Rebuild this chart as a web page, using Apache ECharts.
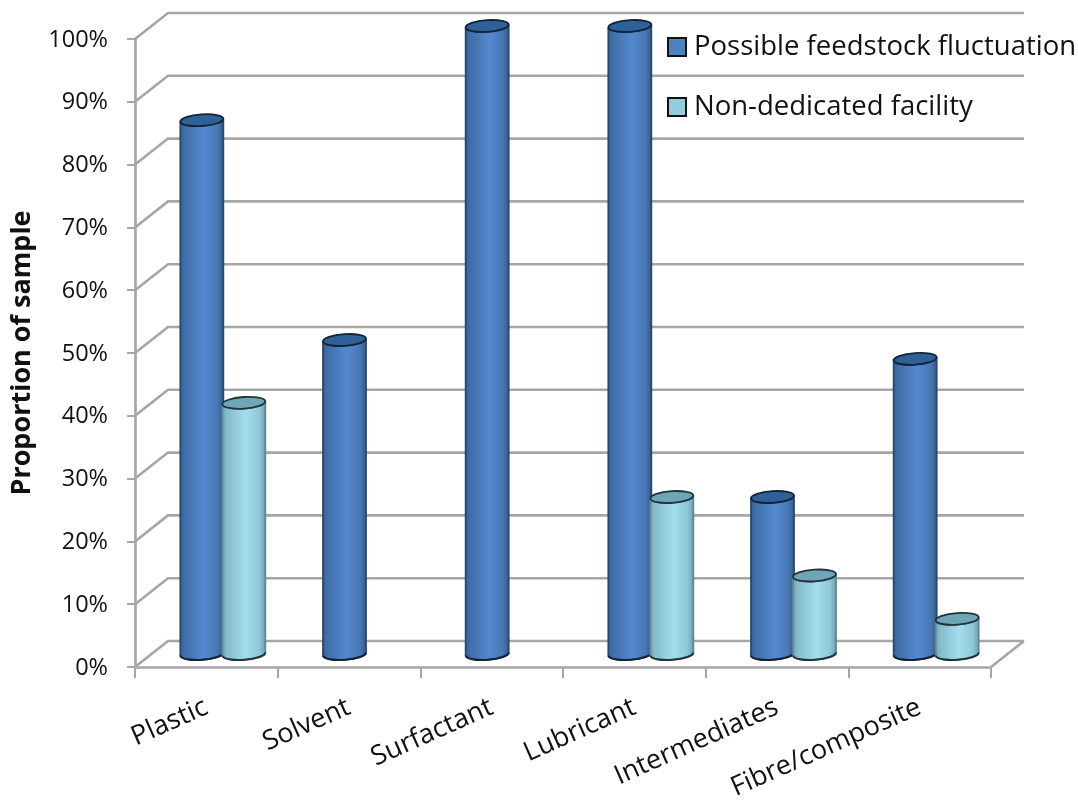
<!DOCTYPE html>
<html><head><meta charset="utf-8">
<style>html,body{margin:0;padding:0;background:#fff}#c{width:1078px;height:803px;filter:blur(0.6px)}</style>
<script src="https://cdn.jsdelivr.net/npm/echarts@6/dist/echarts.min.js"></script>
</head><body><div id="c"></div>
<script>
var categories = ['Plastic','Solvent','Surfactant','Lubricant','Intermediates','Fibre/composite'];
var feedstock = [85,50,100,100,25,47];
var nonDedicated = [40,null,null,25,12.5,5.6];
var gridValues = [0,10,20,30,40,50,60,70,80,90,100];
var nameA = 'Possible feedstock fluctuation';
var nameB = 'Non-dedicated facility';
var FONT = '"Open Sans","Noto Sans",sans-serif';
var DX = 33, DY = -26, GRID = '#a6a6a6';

function wallItem(params, api){
  var v = api.value(1);
  var p0 = api.coord([0, v]), p1 = api.coord([categories.length-1, v]);
  var band = api.size([1,0])[0];
  var xl = p0[0]-band/2, xr = p1[0]+band/2, y = p0[1];
  var pts = [[xl,y],[xl+DX,y+DY],[xr+DX,y+DY]];
  var kids = [{type:'polyline',shape:{points:pts},style:{fill:null,stroke:GRID,lineWidth:2.6}}];
  if (v === 0) kids.push({type:'line',shape:{x1:xr,y1:y,x2:xr+DX,y2:y+DY},style:{stroke:GRID,lineWidth:2.6}});
  return {type:'group',children:kids};
}
function cylinder(off, stops, topFill, edge){
  return function(params, api){
    var v = api.value(1);
    if (v == null || isNaN(v)) return null;
    var idx = api.value(0);
    var top = api.coord([idx, v]), base = api.coord([idx, 0]);
    var rx = 21.5, ry = 5.8, tilt = 1.5, rot = -4;
    var cx = top[0] + DX/2 + off;
    var ty = top[1] + DY/2, by = base[1] + DY/2;
    var body = 'M'+(cx-rx)+' '+(ty+tilt)+' L'+(cx-rx)+' '+(by+tilt)+
      ' A'+rx+' '+ry+' '+rot+' 0 0 '+(cx+rx)+' '+(by-tilt)+
      ' L'+(cx+rx)+' '+(ty-tilt)+
      ' A'+rx+' '+ry+' '+rot+' 0 1 '+(cx-rx)+' '+(ty+tilt)+' Z';
    var cap = 'M'+(cx-rx)+' '+(ty+tilt)+
      ' A'+rx+' '+ry+' '+rot+' 0 0 '+(cx+rx)+' '+(ty-tilt)+
      ' A'+rx+' '+ry+' '+rot+' 0 0 '+(cx-rx)+' '+(ty+tilt)+' Z';
    var front = 'M'+(cx-rx)+' '+(by+tilt)+
      ' A'+rx+' '+ry+' '+rot+' 0 0 '+(cx+rx)+' '+(by-tilt);
    return {type:'group',children:[
      {type:'path',shape:{pathData:body},style:{
        fill:new echarts.graphic.LinearGradient(0,0,1,0,stops),
        stroke:edge.side,lineWidth:1.8}},
      {type:'path',shape:{pathData:front},style:{fill:null,stroke:edge.cap,lineWidth:2}},
      {type:'path',shape:{pathData:cap},style:{fill:topFill,stroke:edge.cap,lineWidth:1.8}}
    ]};
  };
}
var blueStops = [{offset:0,color:'#34608f'},{offset:0.12,color:'#3f6fa8'},{offset:0.55,color:'#5589cf'},{offset:0.85,color:'#4877b4'},{offset:1,color:'#2f577f'}];
var lightStops = [{offset:0,color:'#6f9dab'},{offset:0.12,color:'#86bccb'},{offset:0.55,color:'#a2deed'},{offset:0.85,color:'#8fc7d6'},{offset:1,color:'#6d98a5'}];

function rows(arr){ return arr.map(function(v,i){ return [i,v]; }); }

var chart = echarts.init(document.getElementById('c'), null, {renderer:'canvas'});
chart.setOption({
  animation:false,
  backgroundColor:'#fff',
  grid:{left:135,right:87,top:39,bottom:136,containLabel:false,outerBoundsMode:'none'},
  legend:{
    data:[nameA,nameB],orient:'vertical',left:667,top:30,padding:0,icon:'rect',
    itemWidth:18,itemHeight:18,itemGap:26,
    itemStyle:{borderColor:'#111',borderWidth:2},
    textStyle:{fontFamily:FONT,fontSize:27.5,lineHeight:34,color:'#111',padding:[0,0,0,3]}
  },
  xAxis:{
    type:'category',data:categories,
    axisLine:{lineStyle:{color:GRID,width:2.6}},
    axisTick:{show:true,length:11,lineStyle:{color:GRID,width:2}},
    axisLabel:{rotate:24,margin:39,interval:0,fontFamily:FONT,fontSize:27,color:'#111'}
  },
  yAxis:{
    type:'value',min:0,max:100,interval:10,
    name:'Proportion of sample',nameLocation:'middle',nameGap:99,
    nameTextStyle:{fontFamily:FONT,fontSize:27,fontWeight:'bold',color:'#111'},
    axisLine:{show:true,lineStyle:{color:GRID,width:2.6}},
    axisTick:{show:true,length:8,lineStyle:{color:GRID,width:2}},
    axisLabel:{formatter:'{value}%',margin:27,fontFamily:FONT,fontSize:23.5,color:'#111',verticalAlign:'top',lineHeight:2},
    splitLine:{show:false}
  },
  series:[
    {type:'custom',name:'walls',renderItem:wallItem,data:rows(gridValues).map(function(r){return [0,r[1]];}),encode:{x:0,y:1},z:1,silent:true},
    {type:'custom',name:nameA,renderItem:cylinder(-21,blueStops,'#2f6097',{side:'#27496f',cap:'#12233a'}),
      data:rows(feedstock),encode:{x:0,y:1},itemStyle:{color:'#4f81bd'},z:2},
    {type:'custom',name:nameB,renderItem:cylinder(21,lightStops,'#6ea6b7',{side:'#5f8894',cap:'#22343a'}),
      data:rows(nonDedicated),encode:{x:0,y:1},itemStyle:{color:'#93cddd'},z:3}
  ]
});
</script></body></html>
